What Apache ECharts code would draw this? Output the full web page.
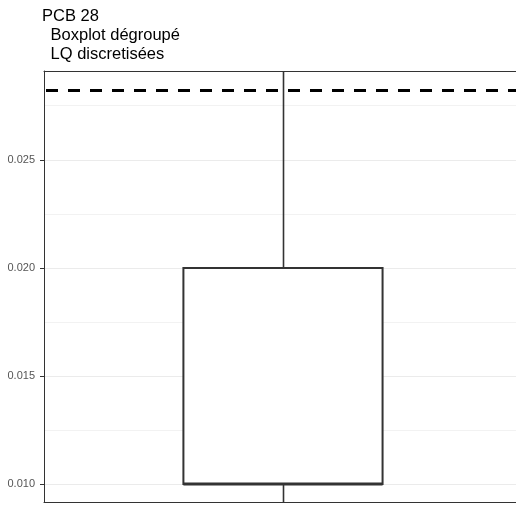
<!DOCTYPE html>
<html>
<head>
<meta charset="utf-8">
<script src="https://cdn.jsdelivr.net/npm/echarts@6/dist/echarts.min.js"></script>
<style>html,body{margin:0;padding:0;background:#fff}#c{width:516px;height:505px}</style>
</head>
<body>
<div id="c"></div>
<script>
// ---- data ----
var titleLines = ['PCB 28', ' Boxplot dégroupé', ' LQ discretisées'];
var categories = [1];
var boxLow = [0.005];
var boxQ1 = [0.010];
var boxMedian = [0.010];
var boxQ3 = [0.020];
var boxHigh = [0.035];
var refLineValue = [0.02824];
var majorTicks = [0.010, 0.015, 0.020, 0.025];
var tickLabels = ['0.010', '0.015', '0.020', '0.025'];
var minorGrid = [0.0125, 0.0175, 0.0225, 0.0275];
var yMin = 0.00917, yMax = 0.02912;
var xMin = 0.4, xMax = 1.585;

var boxData = categories.map(function (c, i) {
  return [c, boxLow[i], boxQ1[i], boxMedian[i], boxQ3[i], boxHigh[i]];
});

function hLineRenderer(style, inset) {
  return function (params, api) {
    var cs = params.coordSys;
    var y = api.coord([xMin, api.value(0)])[1];
    y = Math.round(y - 0.5) + 0.5;
    return {
      type: 'line',
      shape: { x1: cs.x + inset, y1: y, x2: cs.x + cs.width, y2: y },
      style: style
    };
  };
}

var chart = echarts.init(document.getElementById('c'));
var FONT = '"Liberation Sans", Arial, sans-serif';
var titleTops = [8, 27, 46];
var titleLefts = [42, 46, 46];
chart.setOption({
  animation: false,
  backgroundColor: '#fff',
  title: titleLines.map(function (t, i) {
    return {
      text: t, left: titleLefts[i], top: titleTops[i], padding: 0,
      textStyle: { fontFamily: FONT, fontSize: 16.5, fontWeight: 'normal', color: '#000' }
    };
  }),
  grid: { left: 44, top: 71, right: 0, bottom: 3, show: false },
  xAxis: [{
    type: 'value', min: xMin, max: xMax, position: 'bottom',
    axisLine: { show: true, onZero: false, lineStyle: { color: '#333', width: 1 } },
    axisTick: { show: false }, axisLabel: { show: false }, splitLine: { show: false }
  }, {
    type: 'value', min: xMin, max: xMax, position: 'top',
    axisLine: { show: true, onZero: false, lineStyle: { color: '#333', width: 1 } },
    axisTick: { show: false }, axisLabel: { show: false }, splitLine: { show: false }
  }],
  yAxis: {
    type: 'value', min: yMin, max: yMax,
    axisLine: { show: true, onZero: false, lineStyle: { color: '#333', width: 1 } },
    axisTick: { show: true, length: 4, lineStyle: { color: '#333', width: 1 }, customValues: majorTicks },
    axisLabel: {
      customValues: majorTicks,
      formatter: function (v) {
        var i = majorTicks.findIndex(function (t) { return Math.abs(t - v) < 1e-9; });
        return i >= 0 ? tickLabels[i] : '';
      },
      fontFamily: FONT, fontSize: 11, color: '#555', margin: 9
    },
    splitLine: { show: true, lineStyle: { color: '#ebebeb', width: 1 } }
  },
  series: [{
    type: 'custom',
    silent: true,
    data: minorGrid.map(function (v) { return [v]; }),
    encode: { y: 0 },
    renderItem: hLineRenderer({ stroke: '#f2f2f2', lineWidth: 1 }, 1),
    z: 1
  }, {
    type: 'custom',
    clip: true,
    data: boxData,
    encode: { x: 0, y: [1, 2, 3, 4, 5] },
    renderItem: function (params, api) {
      var x = api.value(0);
      var half = api.size([0.25, 0])[0];
      var pLow = api.coord([x, api.value(1)]);
      var pQ1 = api.coord([x, api.value(2)]);
      var pMed = api.coord([x, api.value(3)]);
      var pQ3 = api.coord([x, api.value(4)]);
      var pHigh = api.coord([x, api.value(5)]);
      var cs = params.coordSys;
      var top = Math.max(pHigh[1], cs.y);
      var bot = Math.min(pLow[1], cs.y + cs.height);
      var cx = Math.round(pQ1[0]) + 0.5;
      var stroke = { stroke: '#333', lineWidth: 1.6, fill: null };
      return {
        type: 'group',
        children: [
          { type: 'line', shape: { x1: cx, y1: top, x2: cx, y2: pQ3[1] }, style: stroke },
          { type: 'line', shape: { x1: cx, y1: pQ1[1], x2: cx, y2: bot }, style: stroke },
          { type: 'rect', shape: { x: pQ1[0] - half, y: pQ3[1], width: 2 * half, height: pQ1[1] - pQ3[1] },
            style: { fill: '#fff', stroke: '#333', lineWidth: 2 } },
          { type: 'line', shape: { x1: pMed[0] - half, y1: pMed[1], x2: pMed[0] + half, y2: pMed[1] },
            style: { stroke: '#333', lineWidth: 3 } }
        ]
      };
    },
    z: 2
  }, {
    type: 'custom',
    silent: true,
    data: refLineValue.map(function (v) { return [v]; }),
    encode: { y: 0 },
    renderItem: hLineRenderer({ stroke: '#000', lineWidth: 3, lineDash: [12, 10] }, 2),
    z: 3
  }]
});
</script>
</body>
</html>
